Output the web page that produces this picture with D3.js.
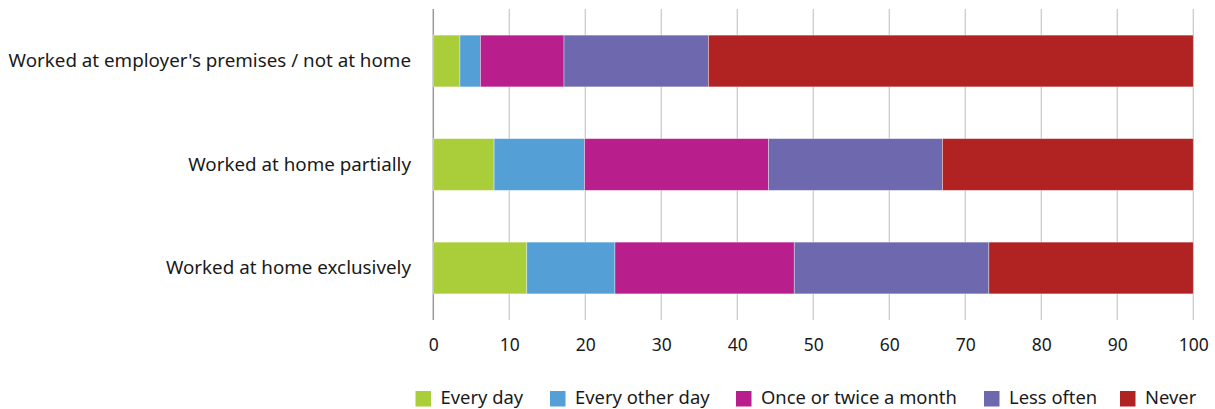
<!DOCTYPE html>
<html><head><meta charset="utf-8">
<script src="https://cdn.jsdelivr.net/npm/d3@7"></script>
<style>
body{margin:0;background:#fff;}
text{font-family:"Noto Sans",sans-serif;fill:#1a1a1a;}
</style></head>
<body><svg id="c" width="1215" height="409"></svg>
<script>
const categories = ["Worked at employer's premises / not at home","Worked at home partially","Worked at home exclusively"];
const seriesNames = ["Every day","Every other day","Once or twice a month","Less often","Never"];
const everyDay = [3.5, 8.0, 12.3];
const everyOtherDay = [2.7, 11.9, 11.6];
const onceOrTwice = [11.0, 24.2, 23.6];
const lessOften = [19.0, 22.9, 25.6];
const never = [63.8, 33.0, 26.9];
const xTicks = [0,10,20,30,40,50,60,70,80,90,100];
const colors = ["#a9ce3a","#559fd7","#b91f8c","#6e69ae","#b12323"];

const seriesVals = [everyDay, everyOtherDay, onceOrTwice, lessOften, never];
const rows = categories.map((c,i)=>{const o={cat:c}; seriesNames.forEach((s,j)=>o[s]=seriesVals[j][i]); return o;});

const svg = d3.select("#c");
const x = d3.scaleLinear().domain([0,100]).range([433.3,1193.3]);
const y = d3.scaleBand().domain(categories).range([9.25,319.75]).paddingInner(0.5).paddingOuter(0.25);

// gridlines
svg.append("g").selectAll("line").data(xTicks).join("line")
  .attr("x1",d=>x(d)).attr("x2",d=>x(d)).attr("y1",9).attr("y2",320)
  .attr("stroke",d=>d===0?"#9a9a9a":"#cccccc").attr("stroke-width",d=>d===0?1.5:1.3);

const stack = d3.stack().keys(seriesNames)(rows);
svg.append("g").selectAll("g").data(stack).join("g")
  .attr("fill",(d,i)=>colors[i])
  .selectAll("rect").data(d=>d).join("rect")
  .attr("x",d=>x(d[0])).attr("width",d=>x(d[1])-x(d[0]))
  .attr("y",d=>y(d.data.cat)).attr("height",y.bandwidth())
  .attr("stroke","#ffffff").attr("stroke-opacity",0.45).attr("stroke-width",0.8);

// x tick labels
const xAxis = svg.append("g").attr("transform","translate(0,320)")
  .call(d3.axisBottom(x).tickValues(xTicks).tickSize(0).tickPadding(19));
xAxis.select(".domain").remove();
xAxis.selectAll("text").attr("font-size",17.5).attr("fill","#1a1a1a").attr("font-family","Noto Sans");

// y labels
const yAxis = svg.append("g").attr("transform","translate(411,0)")
  .call(d3.axisLeft(y).tickSize(0).tickPadding(0));
yAxis.select(".domain").remove();
yAxis.selectAll("text").attr("font-size",18.8).attr("fill","#1a1a1a").attr("font-family","Noto Sans");

// legend
const legX = [415.5,550,736,984,1120];
const leg = svg.append("g").selectAll("g").data(seriesNames).join("g")
  .attr("transform",(d,i)=>`translate(${legX[i]},391)`);
leg.append("rect").attr("width",15.5).attr("height",15.5).attr("fill",(d,i)=>colors[i]);
leg.append("text").attr("x",25).attr("y",7).attr("dy","0.35em").attr("font-size",18.4).text(d=>d);
</script></body></html>
